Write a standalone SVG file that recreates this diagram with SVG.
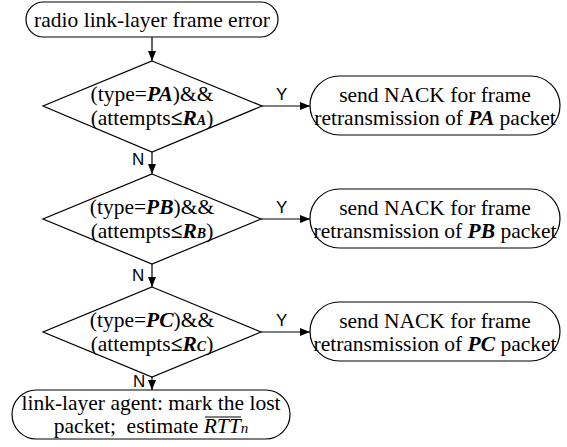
<svg xmlns="http://www.w3.org/2000/svg" width="567" height="447" viewBox="0 0 567 447">
<style>
.shape{fill:#fff;stroke:#000;stroke-width:1.2}
.t{font-family:"Liberation Serif","Times New Roman",serif;font-size:21.5px;fill:#000;text-anchor:middle}
.bi{font-weight:bold;font-style:italic}
.sub{font-size:14px;font-weight:bold;font-style:italic}
.lbl{font-family:"Liberation Sans",Arial,sans-serif;font-size:17px;fill:#000}
.conn{stroke:#000;stroke-width:1.2;fill:none;marker-end:url(#ah)}
</style>
<defs>
<marker id="ah" viewBox="0 0 10 8" refX="10" refY="4" markerWidth="10" markerHeight="8" markerUnits="userSpaceOnUse" orient="auto">
<path d="M0,0 L10,4 L0,8 z" fill="#000"/>
</marker>
</defs>
<g id="connectors">
<line class="conn" x1="152" y1="37" x2="152" y2="61"/>
<line class="conn" x1="262" y1="106" x2="310" y2="106"/>
<line class="conn" x1="152" y1="152" x2="152" y2="174"/>
<line class="conn" x1="261" y1="219" x2="310" y2="219"/>
<line class="conn" x1="152" y1="264" x2="152" y2="287"/>
<line class="conn" x1="261" y1="332" x2="310" y2="332"/>
<line class="conn" x1="152" y1="377" x2="152" y2="390"/>
<text class="lbl" x="276" y="100">Y</text>
<text class="lbl" x="276" y="213">Y</text>
<text class="lbl" x="276" y="326">Y</text>
<text class="lbl" x="132" y="165">N</text>
<text class="lbl" x="132" y="281">N</text>
<text class="lbl" x="133" y="387" font-size="16px">N</text>
</g>
<g id="start">
<rect class="shape" x="26" y="2" width="252" height="35" rx="17.5"/>
<text class="t" x="152" y="27">radio link-layer frame error</text>
</g>
<g id="decisionA">
<polygon class="shape" points="152,61 262,106 152,152 43,106"/>
<text class="t" x="152" y="101">(type=<tspan class="bi">PA</tspan>)&amp;&amp;</text>
<text class="t" x="152" y="125">(attempts<tspan font-weight="bold">≤</tspan><tspan class="bi">R</tspan><tspan class="sub">A</tspan>)</text>
</g>
<g id="nackA">
<rect class="shape" x="310" y="76" width="250" height="59" rx="29.5"/>
<text class="t" x="435" y="102">send NACK for frame</text>
<text class="t" x="435" y="125">retransmission of <tspan class="bi">PA</tspan> packet</text>
</g>
<g id="decisionB">
<polygon class="shape" points="152,174 261,219 152,264 43,219"/>
<text class="t" x="152" y="214">(type=<tspan class="bi">PB</tspan>)&amp;&amp;</text>
<text class="t" x="152" y="238">(attempts<tspan font-weight="bold">≤</tspan><tspan class="bi">R</tspan><tspan class="sub">B</tspan>)</text>
</g>
<g id="nackB">
<rect class="shape" x="310" y="189" width="250" height="59" rx="29.5"/>
<text class="t" x="435" y="215">send NACK for frame</text>
<text class="t" x="435" y="238">retransmission of <tspan class="bi">PB</tspan> packet</text>
</g>
<g id="decisionC">
<polygon class="shape" points="152,287 261,332 152,377 43,332"/>
<text class="t" x="152" y="327">(type=<tspan class="bi">PC</tspan>)&amp;&amp;</text>
<text class="t" x="152" y="351">(attempts<tspan font-weight="bold">≤</tspan><tspan class="bi">R</tspan><tspan class="sub">C</tspan>)</text>
</g>
<g id="nackC">
<rect class="shape" x="310" y="302" width="250" height="59" rx="29.5"/>
<text class="t" x="435" y="328">send NACK for frame</text>
<text class="t" x="435" y="351">retransmission of <tspan class="bi">PC</tspan> packet</text>
</g>
<g id="end">
<rect class="shape" x="12" y="390" width="278" height="49" rx="24.5"/>
<text class="t" x="151" y="410">link-layer agent:  mark the lost</text>
<text class="t" x="151" y="433" xml:space="preserve">packet;  estimate <tspan font-style="italic">RTT</tspan><tspan font-style="italic" font-size="15px">n</tspan></text>
<line x1="205" y1="417" x2="241" y2="417" stroke="#000" stroke-width="1"/>
</g>
</svg>
